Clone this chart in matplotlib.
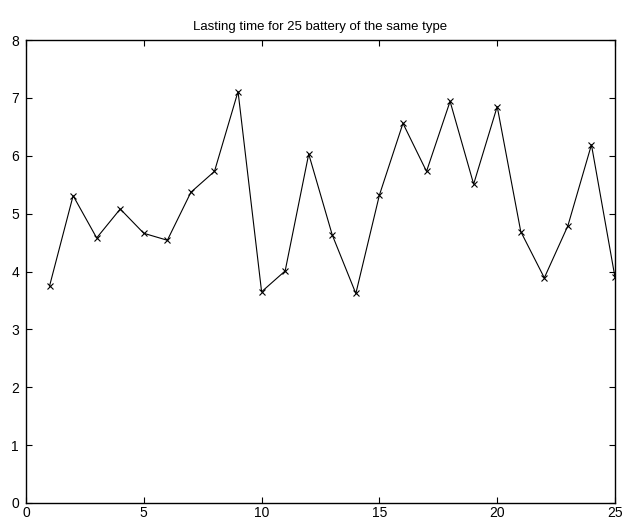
import numpy as np
import matplotlib
matplotlib.use("Agg")
import matplotlib.pyplot as plt

plt.rcParams['font.family'] = ['Liberation Sans', 'DejaVu Sans']

# battery index and lasting time
battery = np.arange(1, 26)
lasting = [3.75, 5.31, 4.58, 5.08, 4.66, 4.54, 5.37, 5.73, 7.11, 3.65,
           4.01, 6.03, 4.63, 3.62, 5.32, 6.56, 5.73, 6.94, 5.51, 6.85,
           4.69, 3.89, 4.79, 6.19, 3.90]

xticks = [0, 5, 10, 15, 20, 25]
yticks = [0, 1, 2, 3, 4, 5, 6, 7, 8]

fig = plt.figure(figsize=(6.24, 5.24), dpi=100)
ax = fig.add_axes([26 / 624, 21 / 524, 589 / 624, 463 / 524])

ax.plot(battery, lasting, color='black', linewidth=0.8,
        marker='x', markersize=5, markeredgewidth=0.8)

ax.set_xlim(0, 25)
ax.set_ylim(0, 8)
ax.set_xticks(xticks)
ax.set_yticks(yticks)
ax.tick_params(direction='in', top=True, right=True, length=4, width=0.8,
               labelsize=10)
ax.tick_params(axis='x', pad=2)
ax.tick_params(axis='y', pad=5)
for s in ax.spines.values():
    s.set_linewidth(1.0)

ax.set_title('Lasting time for 25 battery of the same type', fontsize=9.5, pad=7)

fig.savefig('out.png', dpi=100)
